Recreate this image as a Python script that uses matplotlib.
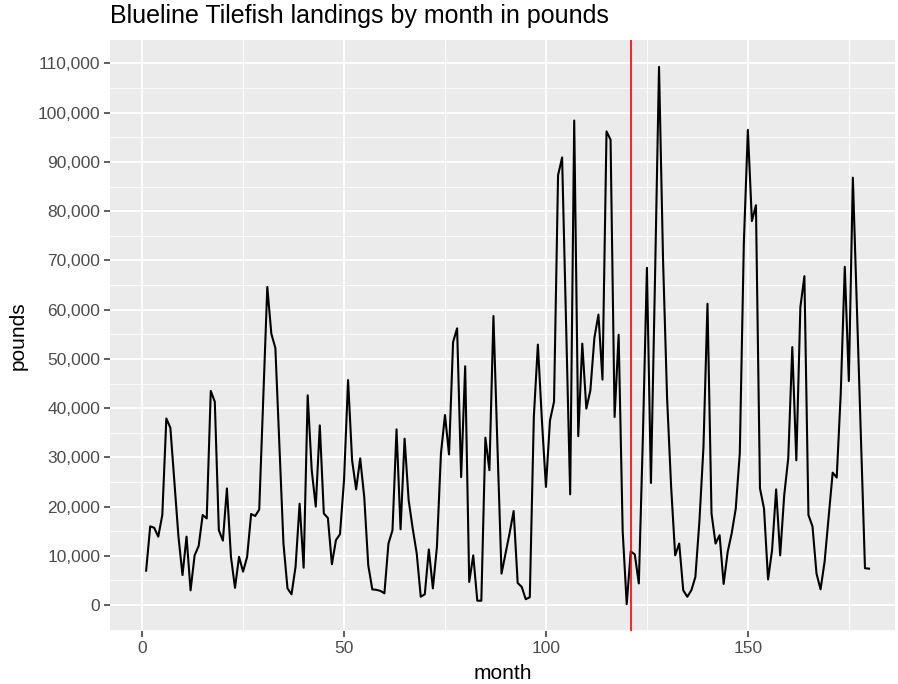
"""
Blueline Tilefish monthly landings, ggplot-like look in matplotlib
"""

import matplotlib
matplotlib.use("Agg")
import matplotlib.pyplot as plt
from matplotlib.ticker import FuncFormatter, MultipleLocator

# landings in pounds, months 1..180
pounds = [
    7000, 16000, 15700, 13900, 18300, 37900, 36000, 24800, 13900, 6100,
    13900, 3000, 10100, 12000, 18300, 17600, 43500, 41300, 15200, 13100,
    23700, 9800, 3500, 9800, 6800, 9800, 18500, 18100, 19400, 42300,
    64600, 55100, 52200, 32100, 12500, 3400, 2200, 7800, 20600, 7600,
    42600, 27400, 20000, 36500, 18600, 17700, 8300, 13200, 14400, 25400,
    45700, 29400, 23500, 29800, 22000, 8100, 3200, 3100, 2900, 2400,
    12500, 15200, 35700, 15400, 33800, 21300, 15600, 10500, 1700, 2200,
    11300, 3400, 11800, 30800, 38600, 30600, 53400, 56200, 26000, 48500,
    4700, 10100, 900, 900, 34000, 27400, 58700, 32000, 6400, 10500,
    14600, 19100, 4500, 3700, 1200, 1600, 38200, 52900, 37500, 24000,
    37500, 41300, 87300, 90900, 57000, 22500, 98400, 34300, 53100, 39900,
    43600, 54300, 59000, 45800, 96200, 94500, 38200, 54900, 15000, 200,
    10900, 10300, 4400, 34000, 68500, 24800, 66000, 109300, 70000, 42000,
    24000, 10100, 12500, 3000, 1700, 3000, 5700, 17000, 32000, 61200,
    18600, 12500, 14200, 4300, 10800, 14600, 19600, 30800, 73400, 96500,
    78000, 81200, 23700, 19600, 5200, 11200, 23500, 10100, 22300, 29800,
    52400, 29400, 60500, 66800, 18300, 16000, 6400, 3200, 8800, 17900,
    26900, 25900, 43000, 68700, 45500, 86800, 60500, 34200, 7500, 7400,
]
months = list(range(1, len(pounds) + 1))
split_month = 121

plt.rcParams["font.family"] = ["Liberation Sans", "DejaVu Sans"]

fig = plt.figure(figsize=(8.98, 6.84), dpi=100)
ax = fig.add_axes([0.1225, 0.0775, 0.874, 0.864])
ax.set_facecolor("#EBEBEB")

ax.plot(months, pounds, color="black", linewidth=1.5, zorder=3)
ax.axvline(split_month, color="red", linewidth=1.2, zorder=4)

# ggplot 5% expansion on the left; the right side of the panel is cut short
span_x = months[-1] - months[0]
ax.set_xlim(months[0] - 0.05 * span_x, months[-1] + 6.4)
span_y = max(pounds) - min(pounds)
ax.set_ylim(min(pounds) - 0.05 * span_y, max(pounds) + 0.05 * span_y)

ax.xaxis.set_major_locator(MultipleLocator(50))
ax.xaxis.set_minor_locator(MultipleLocator(25))
ax.yaxis.set_major_locator(MultipleLocator(10000))
ax.yaxis.set_minor_locator(MultipleLocator(5000))
ax.yaxis.set_major_formatter(FuncFormatter(lambda v, p: f"{int(v):,}"))

ax.grid(which="major", color="white", linewidth=1.3)
ax.grid(which="minor", color="white", linewidth=0.6)
ax.set_axisbelow(True)
for s in ax.spines.values():
    s.set_visible(False)

ax.tick_params(which="major", length=4, width=1.1, color="#333333",
               labelcolor="#4D4D4D", labelsize=12.5, pad=3)
ax.tick_params(which="minor", length=0)

ax.set_xlabel("month", fontsize=15, color="black", labelpad=6)
ax.set_ylabel("pounds", fontsize=15, color="black", labelpad=7)
ax.set_title("Blueline Tilefish landings by month in pounds", loc="left",
             fontsize=18, color="black", pad=12)

fig.savefig("out.png", dpi=100)
